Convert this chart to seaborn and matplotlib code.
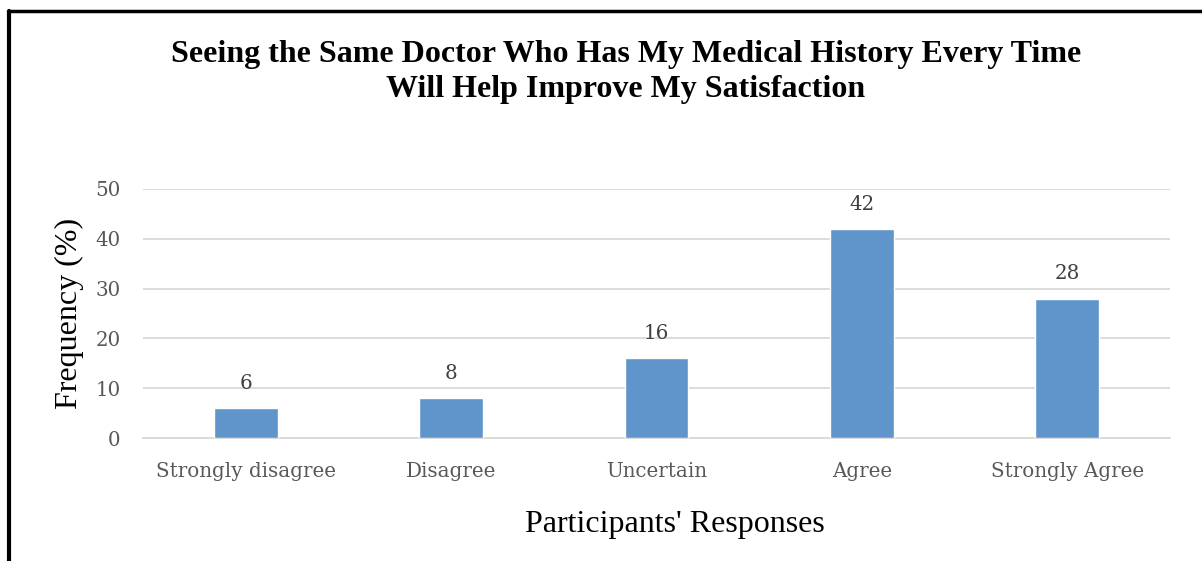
import matplotlib
matplotlib.use("Agg")
import matplotlib.pyplot as plt
import seaborn as sns
import pandas as pd

# Chart data
responses = ["Strongly disagree", "Disagree", "Uncertain", "Agree", "Strongly Agree"]
frequency = [6, 8, 16, 42, 28]
y_ticks = [0, 10, 20, 30, 40, 50]

df = pd.DataFrame({"response": responses, "frequency": frequency})

sns.set_style("white")
plt.rcParams["font.family"] = ["Liberation Serif", "DejaVu Serif"]
plt.rcParams["text.color"] = "black"

fig = plt.figure(figsize=(12.02, 5.61), dpi=100)
ax = fig.add_axes([143 / 1202, 1 - 438 / 561, (1170 - 143) / 1202, (438 - 189) / 561])

sns.barplot(data=df, x="response", y="frequency", color="#5f95cb",
            width=0.31, saturation=1, ax=ax, zorder=3)

ax.set_ylim(0, 50)
ax.set_xlim(-0.5, len(responses) - 0.5)
ax.set_yticks(y_ticks)
ax.yaxis.grid(True, color="#d9d9d9", linewidth=1.3, zorder=0)
ax.set_axisbelow(True)
for s in ax.spines.values():
    s.set_visible(False)
ax.spines["bottom"].set_visible(True)
ax.spines["bottom"].set_color("#d9d9d9")
ax.spines["bottom"].set_linewidth(1.3)
ax.tick_params(axis="both", length=0, labelcolor="#595959")
ax.tick_params(axis="y", pad=16)
ax.tick_params(axis="x", pad=17)
for lbl in ax.get_xticklabels() + ax.get_yticklabels():
    lbl.set_family("DejaVu Serif")
    lbl.set_fontsize(14.3)

for i, v in enumerate(frequency):
    ax.annotate(str(v), (i, v), xytext=(0, 11), textcoords="offset points",
                ha="center", va="bottom", fontsize=14.3, color="#404040",
                family="DejaVu Serif")

ax.set_xlabel("Participants' Responses", fontsize=23, color="black", labelpad=21)
ax.xaxis.label.set_x((675 - 143) / 1027)
ax.set_ylabel("Frequency (%)", fontsize=23, color="black", labelpad=8)

fig.text(626 / 1202, 1 - 72 / 561,
         "Seeing the Same Doctor Who Has My Medical History Every Time\nWill Help Improve My Satisfaction",
         ha="center", va="center", fontsize=23, fontweight="bold", color="black",
         linespacing=1.28)

# Outer frame (left and top edges only)
fig.add_artist(plt.Line2D([9 / 1202, 9 / 1202], [0, 1 - 11 / 561], color="black", linewidth=3,
                          transform=fig.transFigure))
fig.add_artist(plt.Line2D([8 / 1202, 1], [1 - 11 / 561, 1 - 11 / 561], color="black", linewidth=2.5,
                          transform=fig.transFigure))

fig.savefig("out.png", dpi=100)
